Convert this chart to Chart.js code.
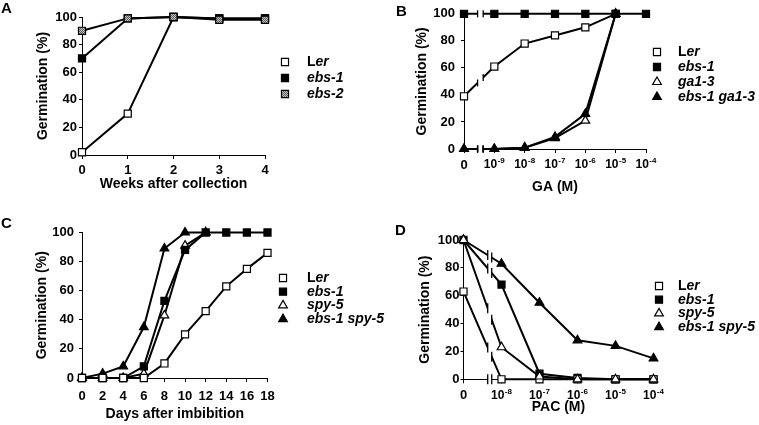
<!DOCTYPE html>
<html lang="en">
<head>
<meta charset="UTF-8">
<title>Germination panels</title>
<script src="https://cdn.jsdelivr.net/npm/chart.js@4"></script>
<style>
    html, body { margin: 0; padding: 0; background: #fff; }
    #fig { position: relative; width: 759px; height: 425px; overflow: hidden; }
    #fig canvas { position: absolute; }
    .tag { position: absolute; font: bold 15px/1 'Liberation Sans', Arial, sans-serif; color: #000; }
</style>
</head>
<body>
<div id="fig">
    <canvas id="cA" width="380" height="212" style="left:0;top:0"></canvas>
    <canvas id="cB" width="379" height="212" style="left:380px;top:0"></canvas>
    <canvas id="cC" width="400" height="213" style="left:0;top:212px"></canvas>
    <canvas id="cD" width="379" height="213" style="left:380px;top:212px"></canvas>
    <div class="tag" style="left:1px;top:0">A</div>
    <div class="tag" style="left:396px;top:3px">B</div>
    <div class="tag" style="left:1px;top:215px">C</div>
    <div class="tag" style="left:395px;top:222px">D</div>
</div>
<script>
// panel A
const weeks = ['0', '1', '2', '3', '4'];
const aLer  = [2, 30, 100, 99, 99];
const aEbs1 = [70, 99, 100, 99, 99];
const aEbs2 = [90, 99, 100, 98, 98];

// panel B  (GA, M)
const gaTicks   = ['0', '10^-9', '10^-8', '10^-7', '10^-6', '10^-5', '10^-4'];
const bLer      = [39, 61, 78, 84, 90, 100, null];
const bEbs1     = [100, 100, 100, 100, 100, 100, 100];
const bGa13     = [0, 0, 1, 8, 21, 100, null];
const bEbs1Ga13 = [0, 0, 1, 9, 26, 100, null];

// panel C
const days      = ['0', '2', '4', '6', '8', '10', '12', '14', '16', '18'];
const cLer      = [0, 0, 0, 0, 10, 30, 46, 63, 75, 86];
const cEbs1     = [0, 0, 0, 8, 53, 88, 100, 100, 100, 100];
const cSpy5     = [0, 0, 0, 3, 43, 91, 100, null, null, null];
const cEbs1Spy5 = [0, 3, 8, 35, 89, 100, 100, null, null, null];

// panel D  (PAC, M)
const pacTicks  = ['0', '10^-8', '10^-7', '10^-6', '10^-5', '10^-4'];
const dLer      = [63, 0, 0, 0, 0, 0];
const dEbs1     = [100, 68, 4, 1, 0, 0];
const dSpy5     = [100, 23, 2, 0, 0, 0];
const dEbs1Spy5 = [100, 83, 55, 28, 24, 15];

const FAMILY = "'Liberation Sans', Arial, Helvetica, sans-serif";
Chart.defaults.font.family = FAMILY;
Chart.defaults.color = '#000';

// grey dotted fill used for ebs-2
function greyPattern() {
    const c = document.createElement('canvas');
    c.width = c.height = 2;
    const g = c.getContext('2d');
    g.fillStyle = '#c4c4c4';
    g.fillRect(0, 0, 2, 2);
    g.fillStyle = '#5a5a5a';
    g.fillRect(0, 0, 1, 1);
    g.fillRect(1, 1, 1, 1);
    return g.createPattern(c, 'repeat');
}
const GREY = greyPattern();

function series(label, data, style, fill, order) {
    return {
        label, data, order,
        pointStyle: style, pointRadius: 5, pointHoverRadius: 5,
        pointBackgroundColor: fill, pointBorderColor: '#000', pointBorderWidth: 1.2,
        borderColor: '#000', borderWidth: 2, backgroundColor: fill,
        fill: false, tension: 0, clip: false, spanGaps: false
    };
}

// legend on the right, "Ler" has italic "er", mutant names are italic
function nameParts(label) {
    return label === 'Ler' ? [['L', ''], ['er', 'italic ']] : [[label, 'italic ']];
}

function marker(ctx, style, fill, x, y, r) {
    ctx.beginPath();
    if (style === 'rect') {
        const s = Math.SQRT1_2 * r;
        ctx.rect(x - s, y - s, 2 * s, 2 * s);
    } else {
        ctx.moveTo(x, y - r);
        ctx.lineTo(x + 0.866 * r, y + 0.5 * r);
        ctx.lineTo(x - 0.866 * r, y + 0.5 * r);
        ctx.closePath();
    }
    ctx.fillStyle = fill;
    ctx.fill();
    ctx.lineWidth = 1.2;
    ctx.strokeStyle = '#000';
    ctx.stroke();
}

const sideLegend = {
    id: 'sideLegend',
    afterDraw(chart, args, o) {
        const ctx = chart.ctx;
        ctx.save();
        ctx.textBaseline = 'middle';
        chart.data.datasets.forEach((ds, i) => {
            const y = o.y + i * o.dy;
            marker(ctx, ds.pointStyle, ds.pointBackgroundColor, o.x, y, 5);
            let x = o.textX;
            ctx.fillStyle = '#000';
            nameParts(ds.label).forEach(([txt, st]) => {
                ctx.font = st + 'bold 14px ' + FAMILY;
                ctx.fillText(txt, x, y);
                x += ctx.measureText(txt).width;
            });
        });
        ctx.restore();
    }
};

// broken x axis between "0" and the first concentration
const axisBreak = {
    id: 'axisBreak',
    afterDatasetsDraw(chart, args, o) {
        const {ctx, chartArea} = chart;
        const xs = chart.scales.x, ys = chart.scales.y;
        const p0 = xs.getPixelForValue(0), p1 = xs.getPixelForValue(1);
        const xc = p0 + (p1 - p0) * o.at;
        const xl = xc - o.gap / 2, xr = xc + o.gap / 2;
        ctx.save();
        ctx.fillStyle = '#fff';
        ctx.fillRect(xl, chartArea.top - 6, o.gap, chartArea.bottom - chartArea.top + 8);
        ctx.strokeStyle = '#000';
        ctx.lineWidth = 1.3;
        const tick = (x, y, h) => { ctx.beginPath(); ctx.moveTo(x, y - h); ctx.lineTo(x, y + h); ctx.stroke(); };
        tick(xl, chartArea.bottom, o.h);
        tick(xr, chartArea.bottom, o.h);
        chart.data.datasets.forEach(ds => {
            const a = ds.data[0], b = ds.data[1];
            if (a == null || b == null) return;
            const ya = ys.getPixelForValue(a), yb = ys.getPixelForValue(b);
            [xl, xr].forEach(x => tick(x, ya + (yb - ya) * (x - p0) / (p1 - p0), o.h));
        });
        ctx.restore();
    }
};

// x tick labels with superscript exponents
const supLabels = {
    id: 'supLabels',
    afterDraw(chart, args, o) {
        const ctx = chart.ctx, xs = chart.scales.x;
        const y = xs.top + o.dy;
        ctx.save();
        ctx.fillStyle = '#000';
        ctx.textBaseline = 'middle';
        ctx.textAlign = 'left';
        chart.data.labels.forEach((lab, i) => {
            const x = xs.getPixelForValue(i);
            const [base, exp] = lab.split('^');
            const fb = 'bold ' + (exp ? 12 : 13) + 'px ' + FAMILY;
            const fe = 'bold 8px ' + FAMILY;
            ctx.font = fb;
            const wb = ctx.measureText(base).width;
            let we = 0;
            if (exp) { ctx.font = fe; we = ctx.measureText(exp).width + 0.5; }
            const x0 = x - (wb + we) / 2;
            ctx.font = fb;
            ctx.fillText(base, x0, y);
            if (exp) { ctx.font = fe; ctx.fillText(exp, x0 + wb + 0.5, y - 4); }
        });
        ctx.restore();
    }
};

function panel(id, c) {
    const axisGrid = { display: true, drawOnChartArea: false, drawTicks: true, tickLength: 4, color: '#000', lineWidth: 1 };
    return new Chart(document.getElementById(id), {
        type: 'line',
        data: { labels: c.labels, datasets: c.datasets },
        options: {
            responsive: false,
            animation: false,
            devicePixelRatio: 1,
            events: [],
            layout: { padding: c.pad },
            plugins: {
                legend: { display: false },
                tooltip: { enabled: false },
                sideLegend: c.legend,
                axisBreak: c.brk || false,
                supLabels: c.sup || false
            },
            scales: {
                x: {
                    type: 'category',
                    offset: false,
                    grid: axisGrid,
                    border: { display: true, color: '#000', width: 1 },
                    ticks: { display: !c.sup, font: { size: 13, weight: 'bold' }, padding: c.xPad, maxRotation: 0, autoSkip: false },
                    title: { display: true, text: c.xTitle, font: { size: 14, weight: 'bold' }, padding: { top: 0, bottom: c.xTitlePad } },
                    afterFit: s => { s.height = c.xH; }
                },
                y: {
                    min: 0, max: 100,
                    grid: Object.assign({}, axisGrid, { tickLength: 3 }),
                    border: { display: true, color: '#000', width: 1 },
                    ticks: { stepSize: 20, font: { size: 13, weight: 'bold' }, padding: c.yPad },
                    title: { display: true, text: 'Germination (%)', font: { size: 14, weight: 'bold' }, padding: { top: c.yTitlePad, bottom: 0 } },
                    afterFit: s => { s.width = c.yW; }
                }
            }
        },
        plugins: [sideLegend, axisBreak, supLabels]
    });
}

panel('cA', {
    labels: weeks,
    datasets: [
        series('Ler', aLer, 'rect', '#fff', 2),
        series('ebs-1', aEbs1, 'rect', '#000', 1),
        series('ebs-2', aEbs2, 'rect', GREY, 0)
    ],
    pad: { left: 0, top: 17, right: 115, bottom: 0 },
    yW: 82, xH: 57, xPad: 3.4, yPad: 2,
    xTitle: 'Weeks after collection', xTitlePad: 19.6, yTitlePad: 34.6,
    legend: { x: 285, textX: 307, y: 62, dy: 16 }
});

panel('cB', {
    labels: gaTicks,
    datasets: [
        series('Ler', bLer, 'rect', '#fff', 3),
        series('ebs-1', bEbs1, 'rect', '#000', 0),
        series('ga1-3', bGa13, 'triangle', '#fff', 2),
        series('ebs-1 ga1-3', bEbs1Ga13, 'triangle', '#000', 1)
    ],
    pad: { left: 0, top: 9.5, right: 113, bottom: 0 },
    yW: 84, xH: 63, xPad: 2, yPad: 6,
    xTitle: 'GA (M)', xTitlePad: 16, yTitlePad: 34,
    brk: { at: 0.54, gap: 5.6, h: 3.5 },
    sup: { dy: 16 },
    legend: { x: 277, textX: 298, y: 52, dy: 15 }
});

panel('cC', {
    labels: days,
    datasets: [
        series('Ler', cLer, 'rect', '#fff', 0),
        series('ebs-1', cEbs1, 'rect', '#000', 1),
        series('spy-5', cSpy5, 'triangle', '#fff', 2),
        series('ebs-1 spy-5', cEbs1Spy5, 'triangle', '#000', 3)
    ],
    pad: { left: 0, top: 20.5, right: 132.5, bottom: 0 },
    yW: 82, xH: 47, xPad: 7, yPad: 5,
    xTitle: 'Days after imbibition', xTitlePad: 2.6, yTitlePad: 33.6,
    legend: { x: 283, textX: 307, y: 66, dy: 13.7 }
});

panel('cD', {
    labels: pacTicks,
    datasets: [
        series('Ler', dLer, 'rect', '#fff', 1),
        series('ebs-1', dEbs1, 'rect', '#000', 2),
        series('spy-5', dSpy5, 'triangle', '#fff', 0),
        series('ebs-1 spy-5', dEbs1Spy5, 'triangle', '#000', 3)
    ],
    pad: { left: 0, top: 28, right: 105.5, bottom: 0 },
    yW: 83.5, xH: 45.7, xPad: 2, yPad: 1,
    xTitle: 'PAC (M)', xTitlePad: 9, yTitlePad: 36.6,
    brk: { at: 0.69, gap: 4, h: 5 },
    sup: { dy: 16 },
    legend: { x: 279, textX: 298, y: 74, dy: 13.7 }
});
</script>
</body>
</html>
